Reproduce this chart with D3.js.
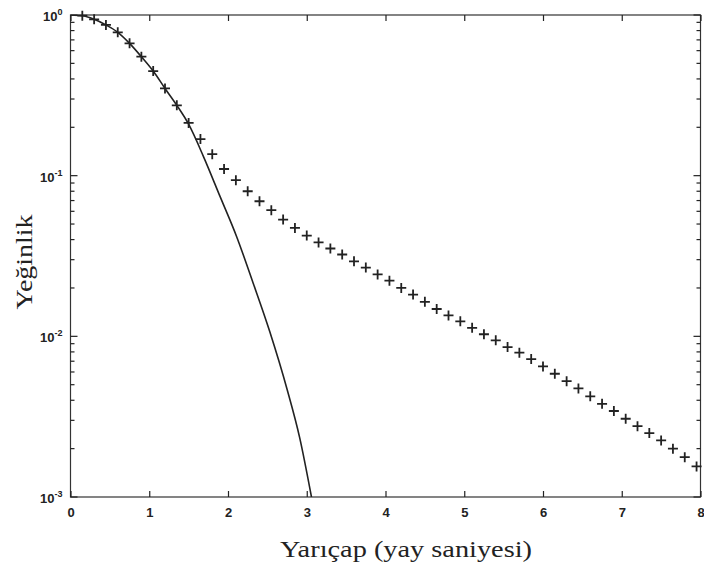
<!DOCTYPE html>
<html>
<head>
<meta charset="utf-8">
<script src="https://cdn.jsdelivr.net/npm/d3@7"></script>
<style>
  html, body { margin: 0; padding: 0; background: #fff; }
  svg { display: block; }
</style>
</head>
<body>
<svg id="chart" width="704" height="576"></svg>
<script>
// ---- data ----
const markerX = [0.15,0.30,0.45,0.60,0.75,0.90,1.05,1.20,1.35,1.50,1.65,1.80,1.95,2.10,2.25,2.40,2.55,2.70,2.85,3.00,
  3.15,3.30,3.45,3.60,3.75,3.90,4.05,4.20,4.35,4.50,4.65,4.80,4.95,5.10,5.25,5.40,5.55,5.70,5.85,6.00,
  6.15,6.30,6.45,6.60,6.75,6.90,7.05,7.20,7.35,7.50,7.65,7.80,7.95];
const markerY = [0.99,0.94,0.867,0.78,0.666,0.55,0.448,0.349,0.274,0.213,0.169,0.136,0.110,0.0938,0.080,0.0693,0.061,0.0533,0.0473,0.0424,
  0.0384,0.0352,0.0323,0.0293,0.0268,0.0243,0.0222,0.0200,0.0182,0.0164,0.0148,0.0135,0.0124,0.0113,0.0103,0.00944,0.00857,0.00791,0.00722,0.0065,
  0.00585,0.00526,0.00474,0.00423,0.0038,0.00343,0.00307,0.00276,0.0025,0.00225,0.0020,0.00177,0.00155];
const lineX = [0,0.15,0.30,0.45,0.60,0.75,0.90,1.05,1.20,1.35,1.50,1.69,1.90,2.11,2.32,2.53,2.75,2.91,3.06];
const lineY = [1,0.99,0.94,0.867,0.78,0.666,0.55,0.448,0.349,0.274,0.209,0.131,0.074,0.0417,0.0214,0.0107,0.00468,0.00234,0.0010];
const xTicks = [0,1,2,3,4,5,6,7,8];
const yTicks = [1e-3,1e-2,1e-1,1];
const yTickExp = ["-3","-2","-1","0"];
const xLabel = "Yarıçap (yay saniyesi)";
const yLabel = "Yeğinlik";

// ---- layout ----
const L = 70.5, R = 700.5, T = 15, B = 497;
const svg = d3.select("#chart");
const x = d3.scaleLinear().domain([0, 8]).range([L, R]);
const y = d3.scaleLog().domain([1e-3, 1]).range([B, T]);
const ink = "#222";

svg.append("defs").append("clipPath").attr("id","clip")
  .append("rect").attr("x", L).attr("y", T).attr("width", R - L).attr("height", B - T);

// frame
svg.append("rect").attr("x", L).attr("y", T).attr("width", R - L).attr("height", B - T)
  .attr("fill", "none").attr("stroke", "#333").attr("stroke-width", 1.2);

// x axis (bottom, ticks inward)
const xAxisB = d3.axisBottom(x).tickValues(xTicks).tickSizeInner(-6).tickSizeOuter(0).tickPadding(11).tickFormat(d3.format("d"));
const gxb = svg.append("g").attr("transform", `translate(0,${B})`).call(xAxisB);
gxb.select(".domain").remove();
gxb.selectAll("line").attr("stroke", ink).attr("stroke-width", 1.2);
gxb.selectAll("text").attr("font-family", "Liberation Sans, Arial, sans-serif")
  .attr("font-size", 13).attr("font-weight", "bold").attr("fill", ink);

// x axis top ticks
const gxt = svg.append("g").attr("transform", `translate(0,${T})`)
  .call(d3.axisTop(x).tickValues(xTicks).tickSizeInner(-6).tickSizeOuter(0).tickFormat(""));
gxt.select(".domain").remove();
gxt.selectAll("line").attr("stroke", ink).attr("stroke-width", 1.2);

// y minor ticks
const minor = [];
for (let e = -3; e < 0; e++) for (let m = 2; m <= 9; m++) minor.push(m * Math.pow(10, e));
function yTicksSide(xpos, dir) {
  const g = svg.append("g");
  g.selectAll("line.maj").data(yTicks).join("line")
    .attr("x1", xpos).attr("x2", xpos + dir * 7)
    .attr("y1", d => y(d)).attr("y2", d => y(d))
    .attr("stroke", ink).attr("stroke-width", 1.2);
  g.selectAll("line.min").data(minor).join("line")
    .attr("x1", xpos).attr("x2", xpos + dir * 4)
    .attr("y1", d => y(d)).attr("y2", d => y(d))
    .attr("stroke", ink).attr("stroke-width", 1.2);
}
yTicksSide(L, 1);
yTicksSide(R, -1);

// y tick labels 10^n
const yl = svg.append("g").selectAll("text").data(yTicks).join("text")
  .attr("x", L - 8).attr("y", (d) => y(d) + 6)
  .attr("text-anchor", "end")
  .attr("font-family", "Liberation Sans, Arial, sans-serif")
  .attr("font-size", 13).attr("font-weight", "bold").attr("fill", ink);
yl.append("tspan").text("10");
yl.append("tspan").attr("dy", -6).attr("font-size", 9).text((d, i) => yTickExp[i]);

// model line
const line = d3.line().x(d => x(d[0])).y(d => y(d[1])).curve(d3.curveMonotoneX);
svg.append("path").datum(lineX.map((v, i) => [v, lineY[i]]))
  .attr("clip-path", "url(#clip)")
  .attr("d", line).attr("fill", "none").attr("stroke", ink).attr("stroke-width", 1.6);

// markers
svg.append("g").selectAll("path").data(markerX.map((v, i) => [v, markerY[i]])).join("path")
  .attr("transform", d => `translate(${x(d[0])},${y(d[1])})`)
  .attr("d", "M-5,0H5M0,-5V5")
  .attr("stroke", ink).attr("stroke-width", 1.8).attr("fill", "none");

// axis labels
svg.append("text").attr("x", 406).attr("y", 557).attr("text-anchor", "middle")
  .attr("font-family", "Liberation Serif, Times New Roman, serif").attr("font-size", 23)
  .attr("fill", ink).attr("textLength", 252).attr("lengthAdjust", "spacingAndGlyphs").text(xLabel);
svg.append("text").attr("transform", "translate(32,262) rotate(-90)").attr("text-anchor", "middle")
  .attr("font-family", "Liberation Serif, Times New Roman, serif").attr("font-size", 23)
  .attr("fill", ink).attr("textLength", 95).attr("lengthAdjust", "spacingAndGlyphs").text(yLabel);
</script>
</body>
</html>
